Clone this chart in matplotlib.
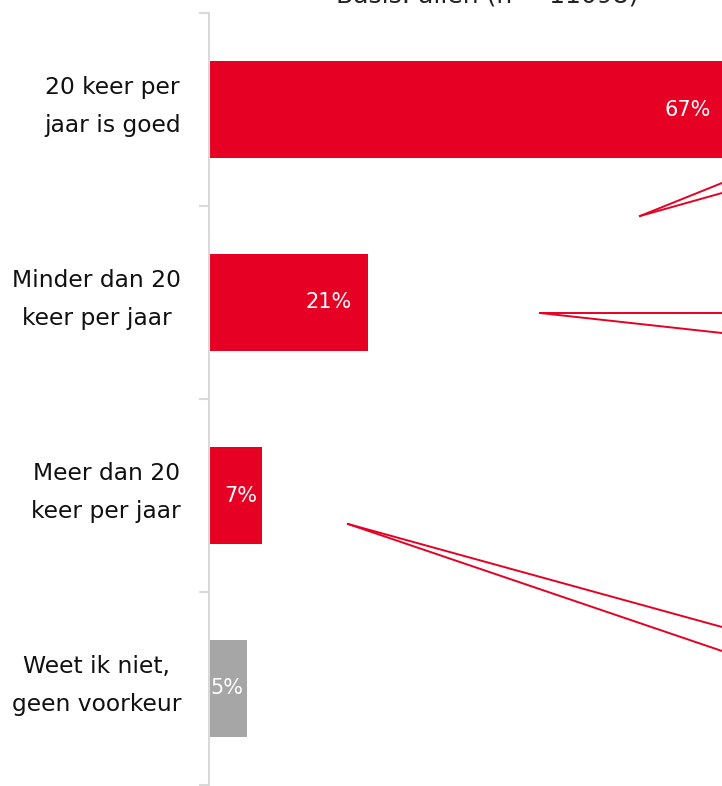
import matplotlib
matplotlib.use("Agg")
import matplotlib.pyplot as plt

# data
categories = ["20 keer per\njaar is goed", "Minder dan 20\nkeer per jaar",
              "Meer dan 20\nkeer per jaar", "Weet ik niet,\ngeen voorkeur"]
values = [67.0, 20.6, 6.9, 4.9]
value_labels = ["67%", "21%", "7%", "5%"]
title = "Basis: allen (n = 11098)"

red = "#E60023"
grey = "#A6A6A6"
colors = [red, red, red, grey]
label_pad = [16, 16, 5, 4]   # px between label and bar end

W, H = 722, 786
fig = plt.figure(figsize=(W / 100, H / 100), dpi=100)
px_per_pct = 7.73
ax = fig.add_axes([209 / W, 1 / H, 100 * px_per_pct / W, 772 / H])

y = range(len(categories))
ax.barh(y, values, height=0.5, color=colors)
ax.set_xlim(0, 100)
ax.set_ylim(3.5, -0.5)

for i, (v, lab) in enumerate(zip(values, value_labels)):
    ax.annotate(lab, (v, i), xytext=(-label_pad[i] * 0.72, 0), textcoords="offset points",
                ha="right", va="center", color="white", fontsize=15)

# category labels (two lines, centred on each other, right aligned to the axis)
for i, cat in enumerate(categories):
    ax.annotate(cat, (0, i), xycoords=("axes fraction", "data"), xytext=(-28 * 0.72, 3 * 0.72),
                textcoords="offset points", ha="right", va="center", multialignment="center",
                fontsize=16.8, linespacing=1.8, color="#111111")

# callout pointers going off to the right (annotation boxes outside the crop)
callouts = [
    ((640, 216), (722, 183), (722, 193)),
    ((540, 313), (722, 313), (722, 333)),
    ((348, 524), (722, 627), (722, 651)),
]
def to_data(p):
    return (p[0] - 209) / px_per_pct, (p[1] - 13) / 193 - 0.5
for apex, e1, e2 in callouts:
    a = to_data(apex)
    for e in (e1, e2):
        b = to_data(e)
        # extend a bit beyond the figure edge
        bx = a[0] + (b[0] - a[0]) * 1.5
        by = a[1] + (b[1] - a[1]) * 1.5
        ax.plot([a[0], bx], [a[1], by], color=red, lw=1.4, clip_on=False)

for s in ["top", "right", "bottom"]:
    ax.spines[s].set_visible(False)
ax.spines["left"].set_color("#D9D9D9")
ax.spines["left"].set_linewidth(1.5)
ax.set_xticks([])
ax.set_yticks([-0.5, 0.5, 1.5, 2.5, 3.5])
ax.set_yticklabels([])
ax.tick_params(axis="y", length=7, color="#D9D9D9", width=1.5)

# title sits mostly above the visible area, as in the cropped original
fig.text(487 / W, 1 - 3 / H, title, ha="center", va="baseline", fontsize=18, color="#222222")

fig.savefig("out.png", dpi=100)
